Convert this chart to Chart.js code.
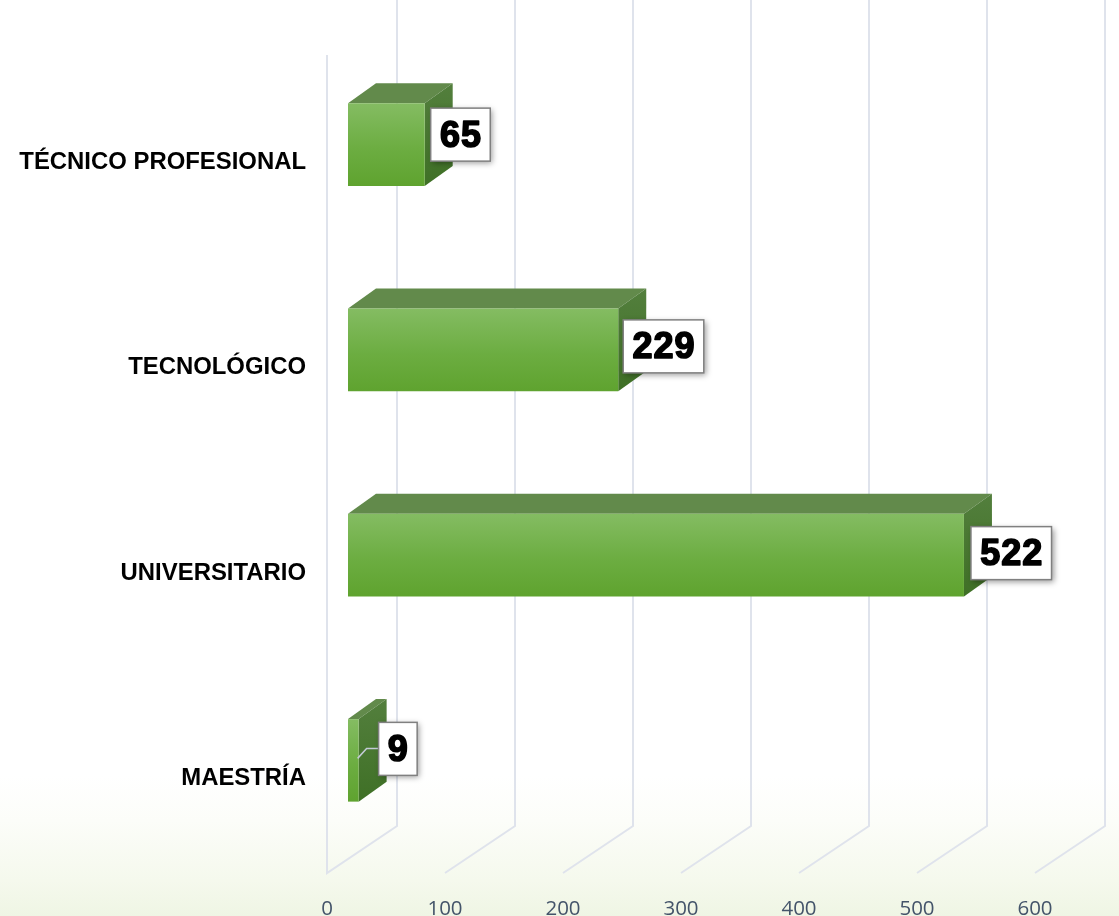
<!DOCTYPE html>
<html>
<head>
<meta charset="utf-8">
<style>
html,body{margin:0;padding:0;width:1119px;height:916px;overflow:hidden;background:linear-gradient(to bottom,#ffffff 0,#ffffff 775px,#fcfdf9 820px,#f5f9ed 880px,#eff5e4 916px);}
canvas{display:block;}
</style>
<script src="https://cdn.jsdelivr.net/npm/chart.js@4/dist/chart.umd.min.js"></script>
</head>
<body>
<canvas id="c" width="1119" height="916"></canvas>
<script>
const categories = ['TÉCNICO PROFESIONAL', 'TECNOLÓGICO', 'UNIVERSITARIO', 'MAESTRÍA'];
const values = [65, 229, 522, 9];
const tickValues = [0, 100, 200, 300, 400, 500, 600];

const WALL = {dx: 70, dy: -47};
const BAR_SHIFT = {dx: 21, dy: -18};
const BAR_DEPTH = {dx: 28, dy: -20};
const GRID = '#dfe3ec';
// hand-placed data-label nudges (x from bar end, y from bar centre)
const labelNudge = [[6, -10], [5, -3.5], [7, -2], [20, -11.5]];

function poly(ctx, pts, fill) {
  ctx.beginPath();
  pts.forEach((p, i) => i ? ctx.lineTo(p[0], p[1]) : ctx.moveTo(p[0], p[1]));
  ctx.closePath();
  ctx.fillStyle = fill;
  ctx.fill();
}

const walls = {
  id: 'walls',
  beforeDatasetsDraw(chart) {
    const {ctx, scales: {x}, chartArea} = chart;
    const floorY = chartArea.bottom - 8;
    ctx.save();
    ctx.strokeStyle = GRID;
    ctx.lineWidth = 2;
    tickValues.forEach(v => {
      const px = x.getPixelForValue(v);
      ctx.beginPath();
      if (v === 0) { ctx.moveTo(px, chartArea.top - 5); ctx.lineTo(px, floorY); }
      else ctx.moveTo(px, floorY);
      ctx.lineTo(px + WALL.dx, floorY + WALL.dy);
      ctx.lineTo(px + WALL.dx, 0);
      ctx.stroke();
    });
    ctx.restore();
  }
};

const bars3d = {
  id: 'bars3d',
  beforeDatasetDraw(chart) {
    const {ctx} = chart;
    ctx.save();
    ctx.translate(BAR_SHIFT.dx, BAR_SHIFT.dy);
    chart.getDatasetMeta(0).data.forEach(b => {
      const l = b.base, r = b.x, t = b.y - b.height / 2, B = b.y + b.height / 2;
      const d = BAR_DEPTH;
      const side = ctx.createLinearGradient(0, t + d.dy, 0, B);
      side.addColorStop(0, '#537f3d');
      side.addColorStop(1, '#3f7026');
      poly(ctx, [[l, t], [l + d.dx, t + d.dy], [r + d.dx, t + d.dy], [r, t]], '#628a4b');
      poly(ctx, [[r, t], [r + d.dx, t + d.dy], [r + d.dx, B + d.dy], [r, B]], side);
    });
  },
  afterDatasetDraw(chart) {
    chart.ctx.restore();
  },
  afterDatasetsDraw(chart) {
    const {ctx} = chart;
    chart.getDatasetMeta(0).data.forEach((b, i) => {
      const text = String(values[i]);
      const endX = b.x + BAR_SHIFT.dx, midY = b.y + BAR_SHIFT.dy;
      ctx.save();
      ctx.font = '700 36px "Liberation Sans"';
      ctx.letterSpacing = '1px';
      const w = ctx.measureText(text).width + 17.5;
      const h = 53;
      const bx = endX + labelNudge[i][0], by = midY + labelNudge[i][1] - h / 2;
      if (i === 3) {
        ctx.strokeStyle = '#c3cad6';
        ctx.lineWidth = 1.5;
        ctx.beginPath();
        ctx.moveTo(endX - 1, by + 36);
        ctx.lineTo(endX + 8, by + 26);
        ctx.lineTo(bx, by + 26);
        ctx.stroke();
      }
      ctx.shadowColor = 'rgba(0,0,0,0.4)';
      ctx.shadowBlur = 6;
      ctx.shadowOffsetX = 2;
      ctx.shadowOffsetY = 2;
      ctx.fillStyle = '#ffffff';
      ctx.fillRect(bx, by, w, h);
      ctx.shadowColor = 'transparent';
      ctx.strokeStyle = '#808080';
      ctx.lineWidth = 1.5;
      ctx.strokeRect(bx, by, w, h);
      ctx.fillStyle = '#000000';
      ctx.strokeStyle = '#000000';
      ctx.lineWidth = 1.6;
      ctx.lineJoin = 'round';
      ctx.textAlign = 'center';
      ctx.textBaseline = 'middle';
      ctx.fillText(text, bx + w / 2 + 0.5, by + h / 2 + 2);
      ctx.strokeText(text, bx + w / 2 + 0.5, by + h / 2 + 2);
      ctx.restore();
    });
  }
};

new Chart(document.getElementById('c'), {
  type: 'bar',
  plugins: [walls, bars3d],
  data: {
    labels: categories,
    datasets: [{
      data: values,
      borderWidth: 0,
      categoryPercentage: 1,
      barPercentage: 0.402,
      backgroundColor(c) {
        const chart = c.chart;
        if (!chart.chartArea) return '#6fae45';
        const y = chart.scales.y.getPixelForValue(c.dataIndex);
        const g = chart.ctx.createLinearGradient(0, y - 41, 0, y + 41);
        g.addColorStop(0, '#84bc62');
        g.addColorStop(0.55, '#6cad41');
        g.addColorStop(1, '#5fa32f');
        return g;
      }
    }]
  },
  options: {
    indexAxis: 'y',
    responsive: false,
    animation: false,
    events: [],
    layout: {padding: {top: 60, right: 84, left: 0, bottom: 0}},
    plugins: {legend: {display: false}, tooltip: {enabled: false}},
    scales: {
      x: {
        type: 'linear',
        min: 0,
        max: 600,
        afterBuildTicks(s) { s.ticks = tickValues.map(v => ({value: v})); },
        afterFit(s) { s.height = 35; },
        grid: {display: false},
        border: {display: false},
        ticks: {
          maxRotation: 0,
          autoSkip: false,
          padding: 8,
          color: '#44546a',
          font: {family: '"Open Sans"', size: 20.5}
        }
      },
      y: {
        afterFit(s) { s.width = 327; },
        grid: {display: false},
        border: {display: false},
        ticks: {
          padding: 13,
          color: '#000000',
          font: {family: '"Liberation Sans"', size: 23.9, weight: 'bold'}
        }
      }
    }
  }
});
</script>
</body>
</html>
